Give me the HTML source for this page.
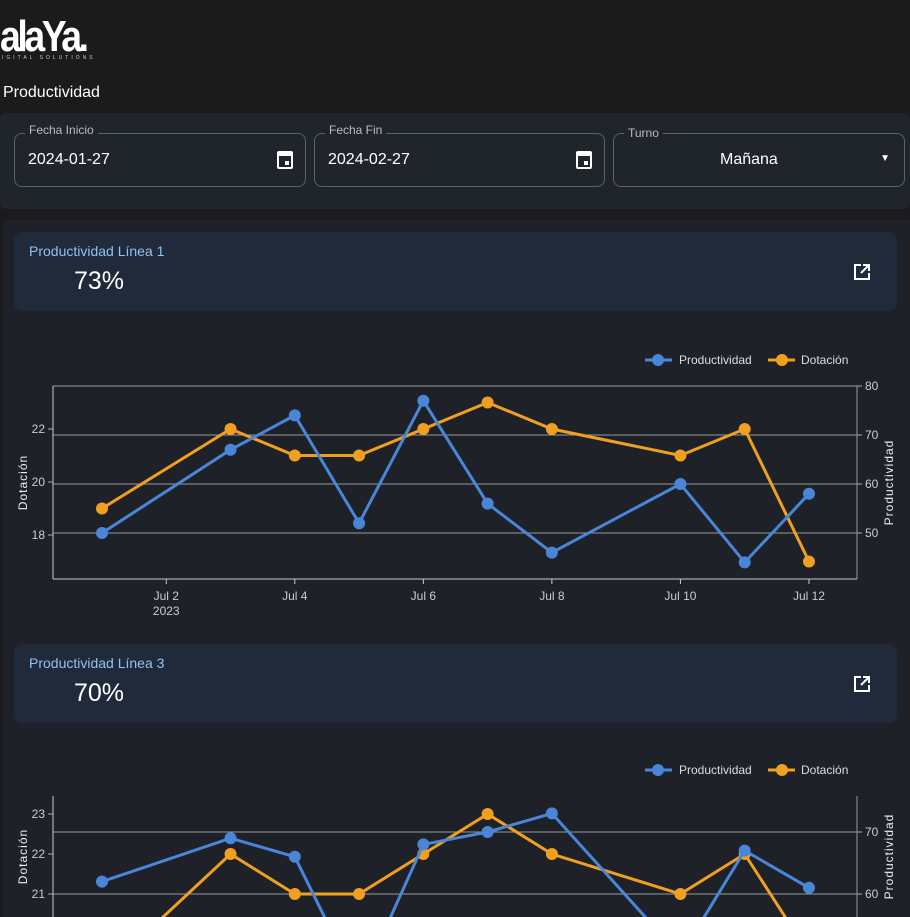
<!DOCTYPE html>
<html><head><meta charset="utf-8"><style>
html,body{margin:0;width:910px;height:917px;overflow:hidden}
body{background:#1b1b1b;font-family:"Liberation Sans",sans-serif;color:#fff;position:relative}
.abs{position:absolute}
.logo{left:0;top:12px;font-size:44px;font-weight:bold;letter-spacing:-4px;transform:scaleX(0.85);transform-origin:left}
.sub{left:2px;top:55px;font-size:5px;letter-spacing:3px;color:#ccc}
.title{left:3px;top:84px;font-size:16px}
.filters{left:0;top:113px;width:910px;height:96px;background:#20242b;border-radius:6px}
.fld{top:133px;height:54px;border:1px solid #5d6168;border-radius:8px;box-sizing:border-box}
.fld .lab{position:absolute;top:-11px;left:10px;font-size:12px;color:#bbb;background:#20242b;padding:0 4px}
.fld .val{position:absolute;top:17px;left:13px;font-size:16px}
.cal{position:absolute;right:12px;top:17px;width:16px;height:18px;border:2px solid #fff;border-top-width:5px;box-sizing:border-box;border-radius:2px}
.cal:after{content:"";position:absolute;right:2px;bottom:2px;width:4px;height:4px;background:#fff}
.section{left:3px;top:220px;width:907px;height:697px;background:#1e2128}
.card{left:14px;width:883px;height:79px;background:#212a3a;border-radius:8px}
.card .ct{position:absolute;left:15px;top:11px;font-size:14px;color:#8fc3f0}
.card .cv{position:absolute;left:60px;top:35px;font-size:25px}
.ext{position:absolute;right:26px;top:31px;width:18px;height:18px}
svg.ch{position:absolute;left:0;top:0}
</style></head><body>
<div class="abs logo">alaYa.</div>
<div class="abs sub">IGITAL SOLUTIONS</div>
<div class="abs title">Productividad</div>
<div class="abs filters"></div>
<div class="abs fld" style="left:14px;width:292px"><span class="lab">Fecha Inicio</span><span class="val">2024-01-27</span><span class="cal"></span></div>
<div class="abs fld" style="left:314px;width:291px"><span class="lab">Fecha Fin</span><span class="val">2024-02-27</span><span class="cal"></span></div>
<div class="abs fld" style="left:613px;width:292px"><span class="lab" style="top:-8px">Turno</span><span class="val" style="left:106px">Mañana</span><span style="position:absolute;right:14px;top:19px;font-size:10px">▼</span></div>
<div class="abs section"></div>
<div class="abs card" style="top:232px"><span class="ct">Productividad Línea 1</span><span class="cv">73%</span><svg class="ext" viewBox="0 0 18 18"><path d="M8 2H2v14h14v-6M10 2h6v6M16 2L8 10" fill="none" stroke="#fff" stroke-width="2"/></svg></div>
<div class="abs card" style="top:644px"><span class="ct">Productividad Línea 3</span><span class="cv">70%</span><svg class="ext" viewBox="0 0 18 18"><path d="M8 2H2v14h14v-6M10 2h6v6M16 2L8 10" fill="none" stroke="#fff" stroke-width="2"/></svg></div>
<svg id="s" class="ch" width="910" height="917"></svg>
<script>
const days1=[1,3,4,5,6,7,8,10,11,12];
const prod1=[50,67,74,52,77,56,46,60,44,58];
const dot1=[19,22,21,21,22,23,22,21,22,17];
const days2=[1,3,4,5,6,7,8,10,11,12];
const prod2=[62,69,66,45,68,70,73,50,67,61];
const dot2=[19,22,21,21,22,23,22,21,22,19.5];
const xTicks=[2,4,6,8,10,12];
const xTickLabels=["Jul 2","Jul 4","Jul 6","Jul 8","Jul 10","Jul 12"];
const left1=[18,20,22], right1=[50,60,70,80];
const left2=[21,22,23], right2=[60,70];
const NS="http://www.w3.org/2000/svg";
const s=document.getElementById('s');
function el(t,a,txt){const e=document.createElementNS(NS,t);for(const k in a)e.setAttribute(k,a[k]);if(txt!==undefined)e.textContent=txt;s.appendChild(e);return e;}
const X=d=>102+(d-1)*64.27;
function chart(top,bottom,L,R,leftT,rightT,days,prod,dot,name){
  const clip='c'+name;
  const cp=document.createElementNS(NS,'clipPath');cp.setAttribute('id',clip);
  const r=document.createElementNS(NS,'rect');r.setAttribute('x',40);r.setAttribute('y',top-15);r.setAttribute('width',840);r.setAttribute('height',Math.min(bottom,917)-top+30);cp.appendChild(r);s.appendChild(cp);
  const ly=top-26;
  let e=el('line',{x1:645,y1:ly,x2:672,y2:ly,stroke:'#4a86d8','stroke-width':3});
  
  el('circle',{cx:658,cy:ly,r:6,fill:'#4a86d8'});
  el('text',{x:679,y:ly+4,'font-size':12,fill:'#ddd'},'Productividad');
  e=el('line',{x1:768,y1:ly,x2:795,y2:ly,stroke:'#f0a020','stroke-width':3});
  
  el('circle',{cx:782,cy:ly,r:6,fill:'#f0a020'});
  el('text',{x:801,y:ly+4,'font-size':12,fill:'#ddd'},'Dotación');
  leftT.forEach(v=>{
    el('line',{x1:48,x2:53,y1:L(v),y2:L(v),stroke:'#aaa'});
    el('text',{x:45,y:L(v)+4,'font-size':12,fill:'#ccc','text-anchor':'end'},v);});
  rightT.forEach(v=>{el('line',{x1:53,x2:857,y1:R(v),y2:R(v),stroke:'#999','stroke-width':1});
    el('line',{x1:857,x2:862,y1:R(v),y2:R(v),stroke:'#aaa'});
    el('text',{x:865,y:R(v)+4,'font-size':12,fill:'#ccc'},v);});
  const b=Math.min(bottom,917);
  el('line',{x1:53,x2:53,y1:top,y2:b,stroke:'#ccc'});
  el('line',{x1:857,x2:857,y1:top,y2:b,stroke:'#999'});
  if(bottom<917){el('line',{x1:53,x2:857,y1:bottom,y2:bottom,stroke:'#ccc'});
    xTicks.forEach((d,i)=>{el('line',{x1:X(d),x2:X(d),y1:bottom,y2:bottom+5,stroke:'#ccc'});
      el('text',{x:X(d),y:bottom+21,'font-size':12,fill:'#ccc','text-anchor':'middle'},xTickLabels[i]);});
    el('text',{x:X(2),y:bottom+36,'font-size':12,fill:'#ccc','text-anchor':'middle'},'2023');}
  const my=(top+b)/2;
  el('text',{x:0,y:0,'font-size':12,fill:'#eee','text-anchor':'middle',transform:`translate(27,${my}) rotate(-90)`,'letter-spacing':1},'Dotación');
  el('text',{x:0,y:0,'font-size':12,fill:'#eee','text-anchor':'middle',transform:`translate(893,${my}) rotate(-90)`,'letter-spacing':1},'Productividad');
  [[dot,L,'#f0a020','dotacion'],[prod,R,'#4a86d8','productividad']].forEach(([vals,f,c,n])=>{
    const p=el('polyline',{points:days.map((d,i)=>X(d)+','+f(vals[i])).join(' '),fill:'none',stroke:c,'stroke-width':3,'clip-path':`url(#${clip})`});
    
    days.forEach((d,i)=>{const c2=el('circle',{cx:X(d),cy:f(vals[i]),r:6,fill:c,'clip-path':`url(#${clip})`});
      });
  });
}
chart(386,579,v=>482-(v-20)*26.5,v=>484-(v-60)*4.9,left1,right1,days1,prod1,dot1,'c1');
chart(796,1000,v=>894-(v-21)*40,v=>894-(v-60)*6.2,left2,right2,days2,prod2,dot2,'c2');
</script>
</body></html>
